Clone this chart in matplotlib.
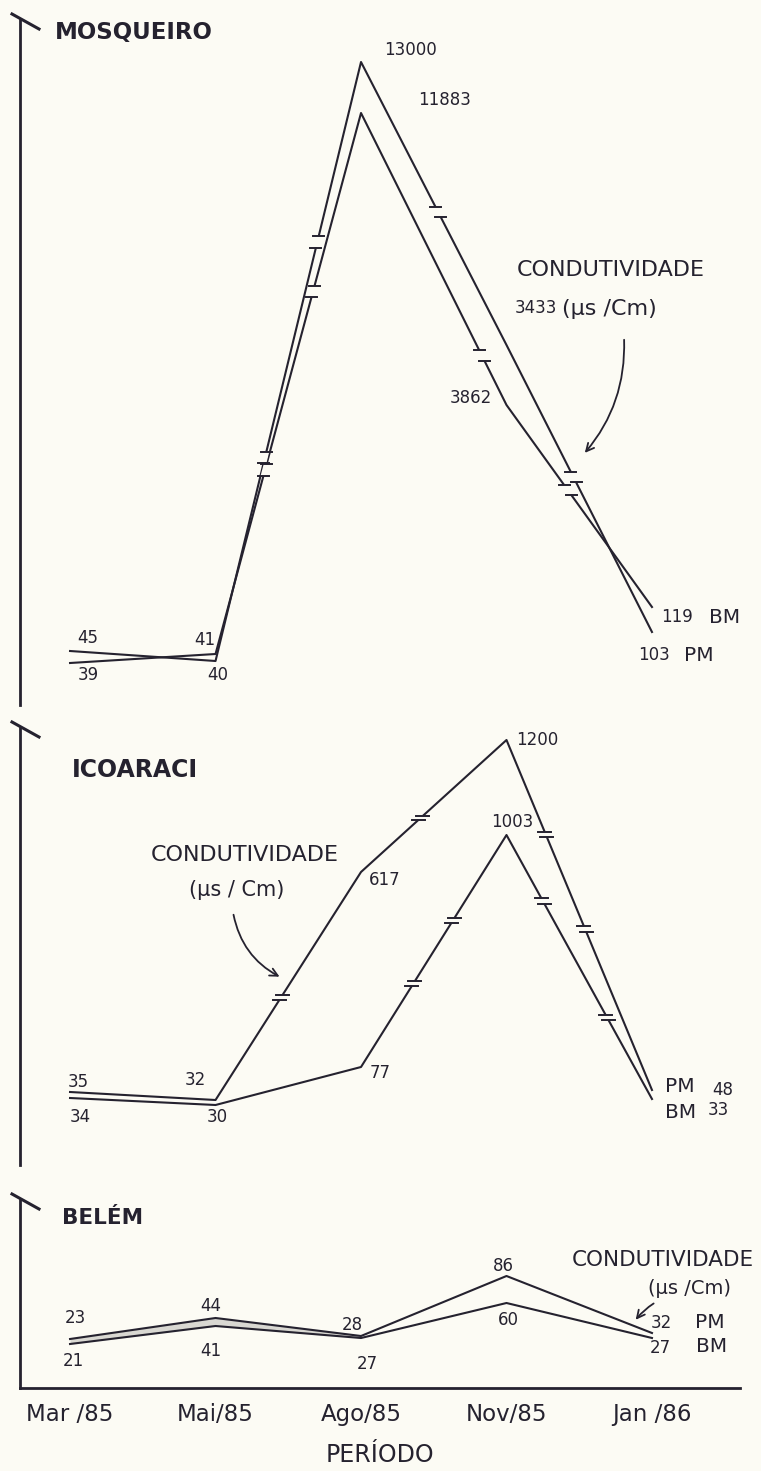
import numpy as np
import matplotlib.pyplot as plt
from matplotlib.lines import Line2D
from matplotlib.patches import FancyArrowPatch

# condutividade (uS/cm) - preamar (PM) e baixa-mar (BM)
meses = ["Mar /85", "Mai/85", "Ago/85", "Nov/85", "Jan /86"]

mosq_pm = [45, 40, 13000, 3862, 103]
mosq_bm = [39, 41, 11883, 3433, 119]
icoa_pm = [35, 32, 617, 1200, 48]
icoa_bm = [34, 30, 77, 1003, 33]
belem_pm = [23, 44, 28, 86, 32]
belem_bm = [21, 41, 27, 60, 27]

W, H = 761, 1471
PAPEL = "#fcfbf4"
TINTA = "#25222f"
plt.rcParams["font.family"] = ["DejaVu Sans"]

fig = plt.figure(figsize=(W / 100, H / 100), dpi=100, facecolor=PAPEL)


def fx(x):
    return x / W


def fy(y):
    return 1 - y / H


def ftext(x, y, s, **kw):
    kw.setdefault("ha", "center")
    kw.setdefault("va", "center")
    fig.text(fx(x), fy(y), s, color=TINTA, **kw)


# escala "quebrada" do desenho original: valor -> altura na folha (px)
paineis = [
    dict(nome="MOSQUEIRO", pm=mosq_pm, bm=mosq_bm, topo=20, base=705,
         vals=[0, 39, 40, 41, 45, 103, 119, 3433, 3862, 11883, 13000, 14000],
         alt=[705, 663, 661, 654, 651, 632, 607, 405, 345, 113, 62, 20],
         titulo=(55, 33, 16.5),
         off_pm=[(18, 13), (2, -14), (49, 12), (-36, -53), (2, -23)],
         off_bm=[(18, -12), (-11, 14), (84, 13), (29, 97), (25, -10)],
         nome_pm=(47, -23), nome_bm=(73, -10),
         quebras=[("pm", 1, 0.34), ("pm", 1, 0.70), ("pm", 2, 0.53), ("pm", 3, 0.46),
                  ("bm", 1, 0.34), ("bm", 1, 0.67), ("bm", 2, 0.83), ("bm", 3, 0.42)],
         gap=12, barra=11),
    dict(nome="ICOARACI", pm=icoa_pm, bm=icoa_bm, topo=728, base=1165,
         vals=[0, 30, 32, 33, 34, 35, 48, 77, 617, 1003, 1200, 1300],
         alt=[1165, 1105, 1100, 1099, 1098, 1092, 1090, 1067, 872, 835, 740, 728],
         titulo=(72, 770, 17),
         off_pm=[(8, 10), (-20, 20), (24, -8), (31, 0), (71, 0)],
         off_bm=[(10, -19), (2, -12), (19, -6), (6, 13), (66, -11)],
         nome_pm=(28, 3), nome_bm=(29, -13),
         quebras=[("pm", 1, 0.45), ("pm", 2, 0.41), ("pm", 3, 0.27), ("pm", 3, 0.54),
                  ("bm", 2, 0.36), ("bm", 2, 0.63), ("bm", 3, 0.25), ("bm", 3, 0.69)],
         gap=6, barra=13),
    dict(nome="BELÉM", pm=belem_pm, bm=belem_bm, topo=1200, base=1388,
         vals=[-23, 21, 23, 27, 28, 32, 41, 44, 60, 86, 160],
         alt=[1388, 1344, 1339, 1338, 1336, 1333, 1326, 1318, 1303, 1276, 1200],
         titulo=(62, 1218, 15.5),
         off_pm=[(5, 21), (-5, 12), (-9, 11), (-3, 10), (9, 10)],
         off_bm=[(3, -17), (-5, -25), (6, -26), (2, -17), (8, -10)],
         nome_pm=(58, 11), nome_bm=(60, -8),
         quebras=[], gap=6, barra=12),
]

X0, X1 = 20, 740
xs = np.arange(len(meses))
inv = fig.transFigure.inverted()


def quebra(ax, ys, seg, t, gap, barra):
    p = ax.transData.transform(np.column_stack([xs[seg:seg + 2], ys[seg:seg + 2]]))
    d = p[1] - p[0]
    u = d / np.hypot(*d)
    c = p[0] + t * d
    a, b = c - u * gap / 2, c + u * gap / 2
    q = inv.transform([a, b])
    fig.add_artist(Line2D(q[:, 0], q[:, 1], color=PAPEL, lw=4, solid_capstyle="butt",
                          zorder=5, transform=fig.transFigure))
    for e in (a, b):
        q = inv.transform([e - [barra / 2, 0], e + [barra / 2, 0]])
        fig.add_artist(Line2D(q[:, 0], q[:, 1], color=TINTA, lw=1.4, zorder=6,
                              transform=fig.transFigure))


eixos = []
for p in paineis:
    ax = fig.add_axes([fx(X0), fy(p["base"]), (X1 - X0) / W, (p["base"] - p["topo"]) / H])
    ax.patch.set_alpha(0)
    v = np.asarray(p["vals"], float)
    h = -np.asarray(p["alt"], float)
    ax.set_yscale("function", functions=(lambda z, v=v, h=h: np.interp(z, v, h),
                                         lambda z, v=v, h=h: np.interp(z, h, v)))
    ax.set_ylim(v[0], v[-1])
    ax.set_xlim(-0.344, 4.605)
    for s in ax.spines.values():
        s.set_visible(False)
    ax.spines["left"].set_visible(True)
    ax.spines["left"].set_color(TINTA)
    ax.spines["left"].set_linewidth(2)
    ax.set_yticks([])
    ax.set_xticks([])

    ax.plot(xs, p["pm"], color=TINTA, lw=1.5, clip_on=False, zorder=3)
    ax.plot(xs, p["bm"], color=TINTA, lw=1.5, clip_on=False, zorder=3)

    for serie, off in (("pm", p["off_pm"]), ("bm", p["off_bm"])):
        for i, val in enumerate(p[serie]):
            ax.annotate(str(val), (xs[i], val), xytext=off[i], textcoords="offset pixels",
                        ha="center", va="center", fontsize=12, color=TINTA)
        ax.annotate(serie.upper(), (xs[-1], p[serie][-1]), xytext=p["nome_" + serie],
                    textcoords="offset pixels", ha="center", va="center",
                    fontsize=14.5, color=TINTA)

    # traço inclinado no topo do eixo
    fig.add_artist(Line2D([fx(X0 - 8), fx(X0 + 19)], [fy(p["topo"] - 6), fy(p["topo"] + 9)],
                          color=TINTA, lw=2.2, transform=fig.transFigure))
    tx, ty, tfs = p["titulo"]
    ftext(tx, ty, p["nome"], ha="left", fontsize=tfs, fontweight="bold")
    eixos.append(ax)

fig.canvas.draw()
for p, ax in zip(paineis, eixos):
    for serie, seg, t in p["quebras"]:
        quebra(ax, p[serie], seg, t, p["gap"], p["barra"])

# Belém: sombreado leve entre as curvas e eixo x
axb = eixos[2]
axb.fill_between(xs[:3], belem_bm[:3], belem_pm[:3], color="#d9d8d2", lw=0, zorder=2)
axb.spines["bottom"].set_visible(True)
axb.spines["bottom"].set_color(TINTA)
axb.spines["bottom"].set_linewidth(2)
axb.set_xticks(xs)
axb.set_xticklabels(meses, fontsize=16.5, color=TINTA)
axb.tick_params(axis="x", length=0, pad=11)
ftext(380, 1455, "PERÍODO", fontsize=17)

# legendas de unidade e setas
ftext(611, 270, "CONDUTIVIDADE", fontsize=16)
ftext(562, 309, "(μs /Cm)", fontsize=16, ha="left")
ftext(245, 855, "CONDUTIVIDADE", fontsize=16)
ftext(237, 890, "(μs / Cm)", fontsize=15)
ftext(663, 1260, "CONDUTIVIDADE", fontsize=15.5)
ftext(690, 1289, "(μs /Cm)", fontsize=14)

for a, b, rad in [((624, 337), (583, 455), -0.2),
                  ((233, 912), (282, 978), 0.25),
                  ((656, 1302), (634, 1322), 0.1)]:
    fig.add_artist(FancyArrowPatch((fx(a[0]), fy(a[1])), (fx(b[0]), fy(b[1])),
                                   transform=fig.transFigure,
                                   connectionstyle=f"arc3,rad={rad}",
                                   arrowstyle="->", mutation_scale=14,
                                   lw=1.3, color=TINTA))

fig.savefig("out.png", dpi=100, facecolor=PAPEL)
